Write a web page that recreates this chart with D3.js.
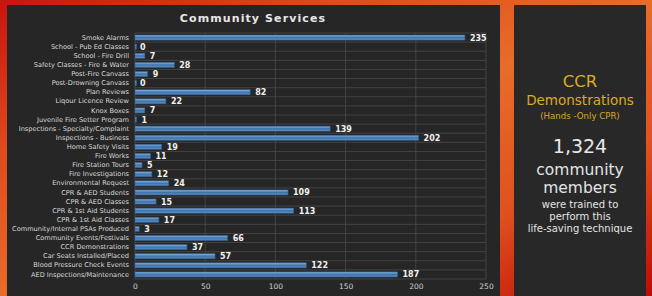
<!DOCTYPE html>
<html><head><meta charset="utf-8">
<script src="https://cdn.jsdelivr.net/npm/d3@7/dist/d3.min.js"></script>
<style>html,body{margin:0;padding:0;background:#d03a18;}svg{display:block;}</style>
</head><body>
<svg id="c" width="652" height="296"></svg>
<script>
const categories = ["Smoke Alarms","School - Pub Ed Classes","School - Fire Drill","Safety Classes - Fire & Water","Post-Fire Canvass","Post-Drowning Canvass","Plan Reviews","Liqour Licence Review","Knox Boxes","Juvenile Fire Setter Program","Inspections - Specialty/Complaint","Inspections - Business","Home Safety Visits","Fire Works","Fire Station Tours","Fire Investigations","Environmental Request","CPR & AED Students","CPR & AED Classes","CPR & 1st Aid Students","CPR & 1st Aid Classes","Community/Internal PSAs Produced","Community Events/Festivals","CCR Demonstrations","Car Seats Installed/Placed","Blood Pressure Check Events","AED Inspections/Maintenance"];
const values = [235,0,7,28,9,0,82,22,7,1,139,202,19,11,5,12,24,109,15,113,17,3,66,37,57,122,187];
const xTicks = [0,50,100,150,200,250];
const title = "Community Services";
const sideLines = [
  {t:"CCR", size:16.5, color:"#dcaa1e", y:87},
  {t:"Demonstrations", size:13.5, color:"#dcaa1e", y:105},
  {t:"(Hands -Only CPR)", size:8.6, color:"#dcaa1e", y:119},
  {t:"1,324", size:19, color:"#e8e8e8", y:153},
  {t:"community", size:15.5, color:"#e4e4e4", y:175},
  {t:"members", size:15.5, color:"#e4e4e4", y:193},
  {t:"were trained to", size:10, color:"#e4e4e4", y:208},
  {t:"perform this", size:10, color:"#e4e4e4", y:220},
  {t:"life-saving technique", size:10, color:"#e4e4e4", y:232}
];

const svg = d3.select("#c");
const defs = svg.append("defs");
const g = defs.append("linearGradient").attr("id","bg").attr("x1",0).attr("y1",0).attr("x2",1).attr("y2",1);
[[0,"#c81410"],[0.25,"#de4a1c"],[0.5,"#e86c2a"],[0.75,"#e0501e"],[1,"#c00808"]].forEach(s=>g.append("stop").attr("offset",s[0]).attr("stop-color",s[1]));
const bg2 = defs.append("linearGradient").attr("id","bar").attr("x1",0).attr("y1",0).attr("x2",0).attr("y2",1);
[[0,"#8bb8e6"],[0.5,"#3f73ab"],[1,"#5f93cb"]].forEach(s=>bg2.append("stop").attr("offset",s[0]).attr("stop-color",s[1]));

svg.append("rect").attr("width",652).attr("height",296).attr("fill","url(#bg)");
svg.append("rect").attr("x",7).attr("y",5).attr("width",493).attr("height",291).attr("fill","#262626");
svg.append("rect").attr("x",514).attr("y",5).attr("width",132).attr("height",291).attr("fill","#282828");

const font = "'DejaVu Sans', sans-serif";
svg.append("text").attr("x",253).attr("y",22).attr("text-anchor","middle")
  .attr("font-family",font).attr("font-weight","bold").attr("font-size",11)
  .attr("letter-spacing",1.1).attr("fill","#e6e6e6").text(title);

const x = d3.scaleLinear().domain([0,250]).range([135,486]);
const y = d3.scaleBand().domain(categories).range([33,279]).paddingInner(0.45).paddingOuter(0.225);

// grid
const step = y.step();
const gl = svg.append("g");
d3.range(categories.length+1).forEach(i=>{
  const yy = 33 + i*step;
  gl.append("line").attr("x1",135).attr("x2",486).attr("y1",yy).attr("y2",yy).attr("stroke","#4a4a4a").attr("stroke-width",0.8);
});
xTicks.forEach(t=>{
  gl.append("line").attr("x1",x(t)).attr("x2",x(t)).attr("y1",33).attr("y2",279).attr("stroke","#4a4a4a").attr("stroke-width",0.8);
});

// axis
const ax = svg.append("g").attr("transform","translate(0,279)").call(d3.axisBottom(x).tickValues(xTicks).tickSize(0).tickPadding(5));
ax.select(".domain").remove();
ax.selectAll("text").attr("font-family",font).attr("font-size",7.5).attr("fill","#cfcfcf");

const ay = svg.append("g").attr("transform","translate(135,0)").call(d3.axisLeft(y).tickSize(0).tickPadding(6));
ay.select(".domain").remove();
ay.selectAll("text").attr("font-family",font).attr("font-size",6.6).attr("fill","#d8d8d8");

svg.append("g").selectAll("rect").data(values).join("rect")
  .attr("x",x(0)).attr("y",(d,i)=>y(categories[i]))
  .attr("width",d=>Math.max(x(d)-x(0),1.5)).attr("height",y.bandwidth())
  .attr("fill","url(#bar)").attr("stroke","#2f5f93").attr("stroke-width",0.6);

svg.append("g").selectAll("text").data(values).join("text")
  .attr("x",d=>x(d)+5).attr("y",(d,i)=>y(categories[i])+y.bandwidth()/2+3)
  .attr("font-family",font).attr("font-weight","bold").attr("font-size",8).attr("fill","#f2f2f2")
  .text(d=>d);

svg.append("g").selectAll("text").data(sideLines).join("text")
  .attr("x",580).attr("y",d=>d.y).attr("text-anchor","middle")
  .attr("font-family",font).attr("font-size",d=>d.size).attr("fill",d=>d.color)
  .text(d=>d.t);
</script>
</body></html>
